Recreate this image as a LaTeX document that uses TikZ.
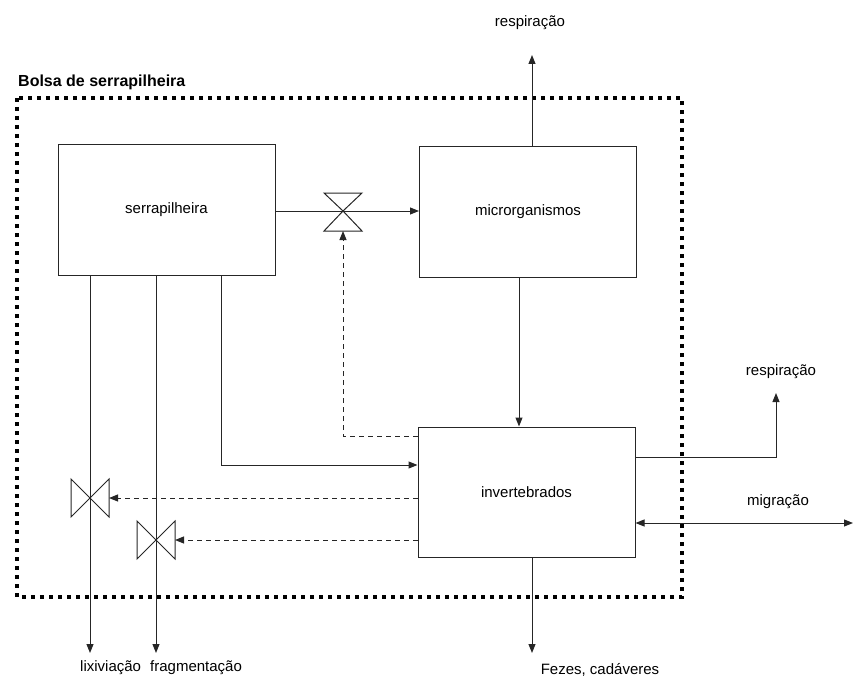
\documentclass[tikz,border=0pt]{standalone}
\usepackage{fontspec}
\setmainfont{Liberation Sans}
\usetikzlibrary{arrows.meta,calc}
\begin{document}
\begin{tikzpicture}[x=1pt,y=-1pt,
  ln/.style={draw=black!85,line width=1pt},
  arr/.style={ln,-{Triangle[length=9pt,width=7pt]}},
  darr/.style={arr,dash pattern=on 5pt off 4pt},
  boxnode/.style={draw=black!85,line width=1pt,minimum width=217pt,minimum height=130pt,inner sep=0pt,font=\fontsize{15}{17}\selectfont},
  lbl/.style={font=\fontsize{15}{17}\selectfont,inner sep=0pt},
  valve/.style={draw=black!85,line width=1pt}
]
\useasboundingbox (0,0) rectangle (853,679);
% border
\draw[line width=4pt,dash pattern=on 4pt off 5pt] (17,98) rectangle (682,597);
\node[font=\bfseries\fontsize{16}{18}\selectfont,anchor=west,inner sep=0pt] (title) at (18,82) {Bolsa de serrapilheira};
% boxes
\node[boxnode] (serr) at (166.5,210) {serrapilheira};
\node[boxnode] (micro) at (528,212) {microrganismos};
\node[boxnode] (inv) at (526.5,492) {invertebrados};
% valve positions
\coordinate (vt) at (343,211);
\coordinate (vl) at (90,498);
\coordinate (vf) at (156,540);
% valves
\draw[valve] ($(vt)+(-19,-18)$) -- ($(vt)+(19,-18)$) -- (vt) -- cycle;
\draw[valve] ($(vt)+(-19,20)$) -- ($(vt)+(19,20)$) -- (vt) -- cycle;
\draw[valve] ($(vl)+(-19,-19)$) -- ($(vl)+(-19,19)$) -- (vl) -- cycle;
\draw[valve] ($(vl)+(19,-19)$) -- ($(vl)+(19,19)$) -- (vl) -- cycle;
\draw[valve] ($(vf)+(-19,-19)$) -- ($(vf)+(-19,19)$) -- (vf) -- cycle;
\draw[valve] ($(vf)+(19,-19)$) -- ($(vf)+(19,19)$) -- (vf) -- cycle;
% end coordinates
\coordinate (r1) at (532,55);
\coordinate (r2) at (776,393);
\coordinate (mig) at (853,523);
\coordinate (lixe) at (90,653);
\coordinate (frage) at (156,653);
\coordinate (feze) at (532,653);
% labels
\node[lbl] (lr1) at (530,23) {respiração};
\node[lbl] (lr2) at (781,372) {respiração};
\node[lbl] (lmig) at (778,502) {migração};
\node[lbl,anchor=west] (llix) at (80,668) {lixiviação};
\node[lbl,anchor=west] (lfrag) at (150,668) {fragmentação};
\node[lbl] (lfez) at (600,670) {Fezes, cadáveres};
% connectors
\draw[arr] (serr.east |- vt) -- (micro.west |- vt);
\draw[darr] ($(inv.north west)+(0,10)$) -| ($(vt)+(0,20)$);
\draw[arr] (micro.north -| r1) -- (r1);
\draw[arr] (micro.south -| 519,0) -- (inv.north -| 519,0);
\draw[arr] (serr.south -| 221,0) |- (inv.west |- 0,465);
\draw[arr] (serr.south -| lixe) -- (lixe);
\draw[arr] (serr.south -| frage) -- (frage);
\draw[darr] (inv.west |- vl) -- ($(vl)+(19,0)$);
\draw[darr] (inv.west |- vf) -- ($(vf)+(19,0)$);
\draw[arr] (inv.east |- 0,457) -| (r2);
\draw[ln,{Triangle[length=9pt,width=7pt]}-{Triangle[length=9pt,width=7pt]}] (inv.east |- mig) -- (mig);
\draw[arr] (inv.south -| feze) -- (feze);
\end{tikzpicture}
\end{document}
